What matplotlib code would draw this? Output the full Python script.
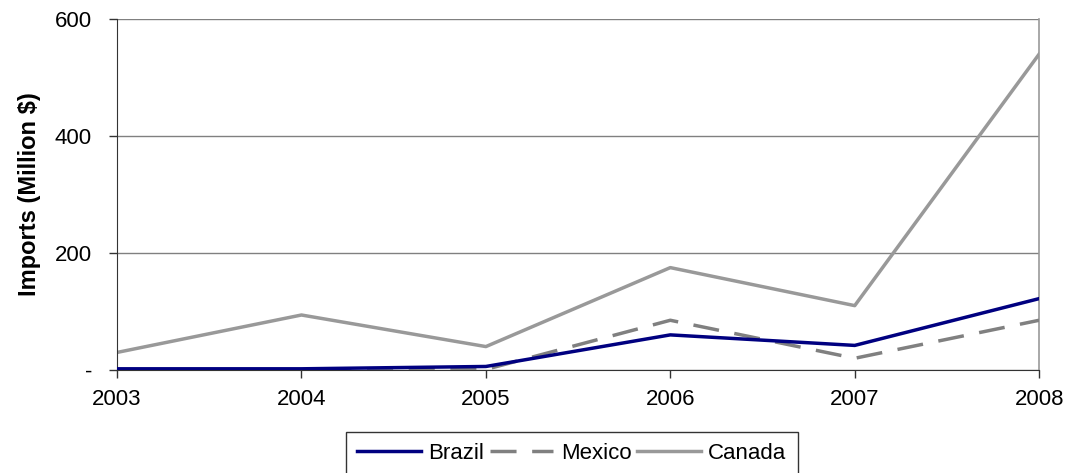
import matplotlib
matplotlib.use('Agg')
import matplotlib.pyplot as plt
from matplotlib.ticker import FixedLocator, FuncFormatter

plt.rcParams['font.family'] = ['Liberation Sans', 'DejaVu Sans']

years = [2003, 2004, 2005, 2006, 2007, 2008]
brazil = [2, 2, 6, 60, 42, 122]
mexico = [0, 0, 1, 85, 20, 85]
canada = [30, 94, 40, 175, 110, 540]

fig = plt.figure(figsize=(10.66, 4.73), dpi=100)
ax = fig.add_axes([0.1098, 0.2178, 0.865, 0.742])

ax.plot(years, brazil, color='#000080', lw=2.5, label='Brazil', zorder=4)
ax.plot(years, mexico, color='#808080', lw=2.5, dashes=(7.5, 4.5), label='Mexico', zorder=3)
ax.plot(years, canada, color='#999999', lw=2.5, label='Canada', zorder=2)

ax.set_xlim(2003, 2008)
ax.set_ylim(0, 600)
ax.xaxis.set_major_locator(FixedLocator(years))
ax.yaxis.set_major_locator(FixedLocator([0, 200, 400, 600]))
ax.yaxis.set_major_formatter(FuncFormatter(lambda v, p: '-' if v == 0 else f'{v:.0f}'))

ax.grid(axis='y', color='#808080', lw=1)
ax.set_axisbelow(True)
ax.tick_params(labelsize=16, length=6, width=1, color='#333333', pad=8)
ax.tick_params(axis='y', pad=12)

ax.spines['top'].set_visible(False)
ax.spines['right'].set_color('#999999')
ax.spines['right'].set_linewidth(1.2)
ax.spines['left'].set_color('#333333')
ax.spines['bottom'].set_color('#333333')

ax.set_ylabel('Imports (Million $)', fontsize=17, fontweight='bold', labelpad=10)

leg = fig.legend(loc='upper center', bbox_to_anchor=(0.5366, 0.0867), ncol=3,
                 fontsize=16, frameon=True, fancybox=False, handlelength=2.85,
                 handletextpad=0.35, columnspacing=0.25, borderpad=0.5,
                 borderaxespad=0)
leg.get_frame().set_edgecolor('black')
leg.get_frame().set_linewidth(1)

fig.savefig('out.png', dpi=100, facecolor='white')
